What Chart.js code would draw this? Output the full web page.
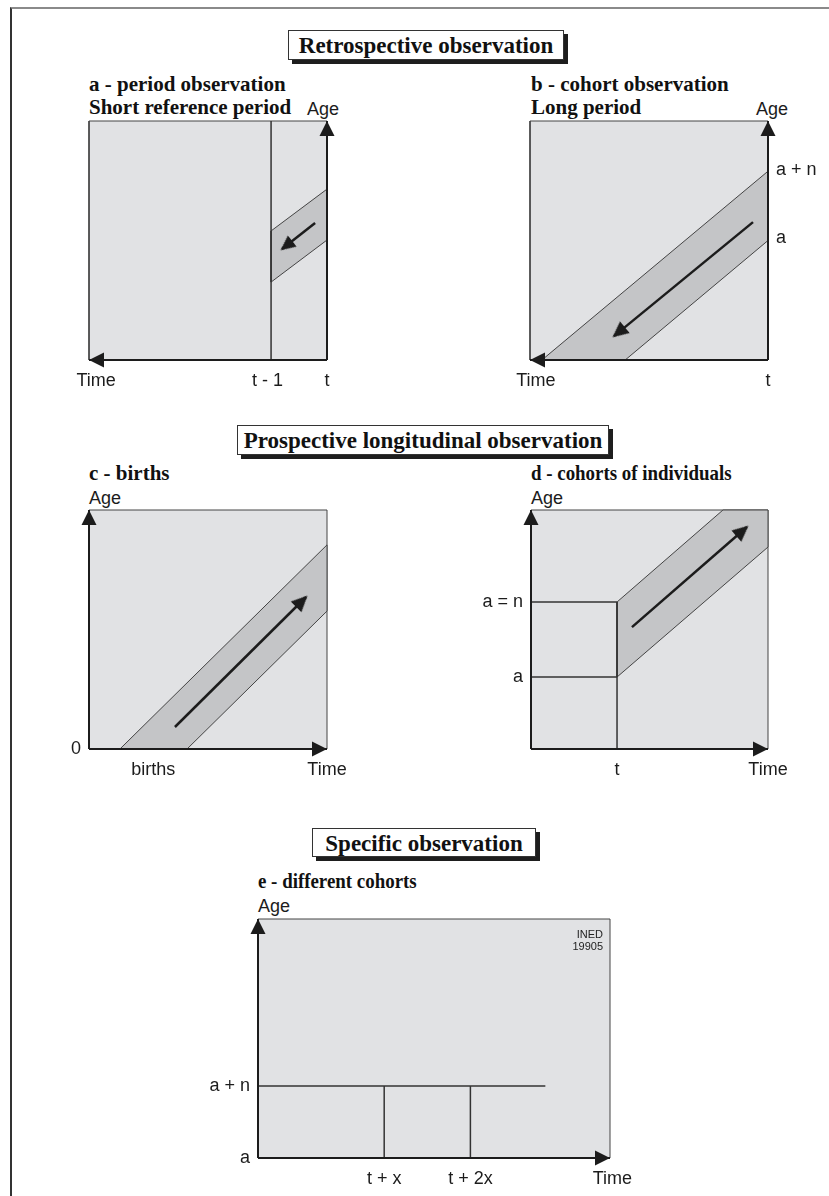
<!DOCTYPE html>
<html>
<head>
<meta charset="utf-8">
<script src="https://cdn.jsdelivr.net/npm/chart.js@4.4.0/dist/chart.umd.min.js"></script>
<style>
html, body { margin: 0; padding: 0; background: #fff; width: 829px; height: 1196px; overflow: hidden; position: relative; }
.frame { position: absolute; left: 10px; top: 7px; width: 830px; height: 1200px; border-top: 2px solid #8a8a8a; border-left: 2px solid #333; }
.head { position: absolute; box-sizing: border-box; border: 1px solid #333; background: #fff; box-shadow: 4px 4px 0 #1e1e1e;
        font: bold 23px 'Liberation Serif', 'Times New Roman', serif; color: #111; display: flex; align-items: center; justify-content: center; padding-top: 2px; }
.title { position: absolute; font: bold 21px/23px 'Liberation Serif', 'Times New Roman', serif; color: #111; white-space: nowrap; transform-origin: left top; }
.lab { position: absolute; font: 18px/18px 'Liberation Sans', Arial, sans-serif; color: #1c1c1c; white-space: nowrap; }
.ined { position: absolute; z-index: 2; font: 11px/12px 'Liberation Sans Narrow', 'Arial Narrow', 'Liberation Sans', sans-serif; text-align: right; color: #222; }
canvas { position: absolute; }
</style>
</head>
<body>
<div class="frame"></div>

<div class="head" style="left:288px;top:30px;width:276px;height:30px">Retrospective observation</div>
<div class="head" style="left:237px;top:425px;width:372px;height:30px">Prospective longitudinal observation</div>
<div class="head" style="left:312px;top:828px;width:224px;height:29px">Specific observation</div>

<div class="title" style="left:89px;top:73px">a - period observation<br>Short reference period</div>
<div class="title" style="left:531px;top:73px">b - cohort observation<br>Long period</div>
<div class="title" style="left:89px;top:462px">c - births</div>
<div class="title" style="left:531px;top:462px;transform:scaleX(0.9)">d - cohorts of individuals</div>
<div class="title" style="left:258px;top:870px;transform:scaleX(0.9)">e - different cohorts</div>

<div class="lab" style="left:307px;top:100px">Age</div>
<div class="lab" style="left:756px;top:100px">Age</div>
<div class="lab" style="left:89px;top:489px">Age</div>
<div class="lab" style="left:531px;top:489px">Age</div>
<div class="lab" style="left:258px;top:897px">Age</div>

<canvas id="chart-a"></canvas>
<canvas id="chart-b"></canvas>
<canvas id="chart-c"></canvas>
<canvas id="chart-d"></canvas>
<canvas id="chart-e"></canvas>

<div class="ined" style="left:560px;top:928px;width:43px">INED<br>19905</div>

<script>
// --- DATA (diagram units: time 0..100 left to right, age 0..100 bottom to top) ---

// a - period observation
const aBox = [[0, 0], [100, 0], [100, 100], [0, 100], [0, 0]];
const aPeriodLine = [[76.5, 0], [76.5, 100]];
const aBand = [[76.5, 32.6], [100, 50.2], [100, 71.5], [76.5, 54], [76.5, 32.6]];
const aArrow = [[95, 57.3], [81.1, 46.4]];
const aTimeAxis = [[100, 0], [0, 0]];
const aAgeAxis = [[100, 0], [100, 100]];
const aTimeTicks = [3, 75, 100];
const aTimeLabels = ['Time', 't - 1', 't'];

// b - cohort observation
const bBox = [[0, 0], [100, 0], [100, 100], [0, 100], [0, 0]];
const bBand = [[5, 0], [40, 0], [100, 50], [100, 79], [5, 0]];
const bArrow = [[93.7, 57.7], [35.3, 10]];
const bTimeAxis = [[100, 0], [0, 0]];
const bAgeAxis = [[100, 0], [100, 100]];
const bTimeTicks = [2.5, 100];
const bTimeLabels = ['Time', 't'];
const bAgeTicks = [79.5, 51];
const bAgeLabels = ['a + n', 'a'];

// c - births
const cBox = [[0, 0], [100, 0], [100, 100], [0, 100], [0, 0]];
const cBand = [[13, 0], [41.2, 0], [100, 57.7], [100, 85.4], [13, 0]];
const cArrow = [[36.1, 9.2], [91.2, 63.6]];
const cTimeAxis = [[0, 0], [100, 0]];
const cAgeAxis = [[0, 0], [0, 100]];
const cTimeTicks = [27, 100];
const cTimeLabels = ['births', 'Time'];
const cAgeTicks = [0];
const cAgeLabels = ['0'];

// d - cohorts of individuals
const dBox = [[0, 0], [100, 0], [100, 100], [0, 100], [0, 0]];
const dBand = [[36.3, 30.1], [100, 84.5], [100, 100], [81, 100], [36.3, 61.5], [36.3, 30.1]];
const dStartLine = [[36.3, 0], [36.3, 61.5]];
const dAgeLowLine = [[0, 30.1], [36.3, 30.1]];
const dAgeHighLine = [[0, 61.5], [36.3, 61.5]];
const dArrow = [[42.6, 51], [91.1, 92.9]];
const dTimeAxis = [[0, 0], [100, 0]];
const dAgeAxis = [[0, 0], [0, 100]];
const dTimeTicks = [36.3, 100];
const dTimeLabels = ['t', 'Time'];
const dAgeTicks = [61.5, 30.1];
const dAgeLabels = ['a = n', 'a'];

// e - different cohorts
const eBox = [[0, 0], [147, 0], [147, 100], [0, 100], [0, 0]];
const eAgeLine = [[0, 30.1], [120, 30.1]];
const eCohort1 = [[52.7, 0], [52.7, 30.1]];
const eCohort2 = [[88.7, 0], [88.7, 30.1]];
const eTimeAxis = [[0, 0], [147, 0]];
const eAgeAxis = [[0, 0], [0, 100]];
const eTimeTicks = [52.7, 88.7, 148];
const eTimeLabels = ['t + x', 't + 2x', 'Time'];
const eAgeTicks = [30.1, 0];
const eAgeLabels = ['a + n', 'a'];

// --- STYLE ---
const BOX_FILL = '#e1e2e4';
const BAND_FILL = '#c4c5c7';
const INK = '#1c1c1c';
const EDGE = '#444';
const FONT = "'Liberation Sans', Arial, sans-serif";
const PAD = 60;

// arrowhead image: tip sits at the image centre (plus an overshoot) so rotation keeps the tip on the point
function makeHead(len, half, over) {
    const size = 2 * (len + over) + 2;
    const c = document.createElement('canvas');
    c.width = size; c.height = size;
    const g = c.getContext('2d');
    const cx = size / 2, cy = size / 2 - over;
    g.fillStyle = INK;
    g.beginPath();
    g.moveTo(cx, cy);
    g.lineTo(cx + half, cy + len);
    g.lineTo(cx - half, cy + len);
    g.closePath();
    g.fill();
    return c;
}
const axisHead = makeHead(15, 7.5, 0);
const bigHead = makeHead(16, 7.5, 2);
const smallHead = makeHead(15, 7, 2);

function pts(arr) {
    return arr.map(([x, y]) => ({ x, y }));
}

function headAngle(ctx) {
    const d = ctx.dataset.data;
    const i = ctx.dataIndex;
    if (!i) return 0;
    const sx = ctx.chart.scales.x, sy = ctx.chart.scales.y;
    const dx = sx.getPixelForValue(d[i].x) - sx.getPixelForValue(d[i - 1].x);
    const dy = sy.getPixelForValue(d[i].y) - sy.getPixelForValue(d[i - 1].y);
    return Math.atan2(dx, -dy) * 180 / Math.PI;
}

function shape(points, fill, order) {
    return { data: pts(points), showLine: true, fill: 'shape', backgroundColor: fill,
             borderColor: EDGE, borderWidth: 1, pointRadius: 0, clip: false, order };
}

function line(points, width, order) {
    return { data: pts(points), showLine: true, fill: false, borderColor: '#333',
             borderWidth: width, pointRadius: 0, clip: false, order };
}

function arrow(points, head, width, order) {
    return {
        data: pts(points), showLine: true, fill: false, borderColor: INK, borderWidth: width,
        clip: false, order,
        pointRadius: points.map((p, i) => (i === points.length - 1 ? 6 : 0)),
        pointStyle: head, pointRotation: headAngle, pointBorderWidth: 0
    };
}

// each axis gets a fixed PAD-sized strip so the plot box lands exactly where wanted
function axisOptions(axis, max, ticks, labels, position) {
    return {
        type: 'linear', min: 0, max, position,
        grid: { display: false, drawTicks: false },
        border: { display: false },
        afterBuildTicks: s => { s.ticks = ticks.map(v => ({ value: v })); },
        afterFit: s => {
            if (axis === 'x') s.height = PAD; else s.width = PAD;
            s.paddingLeft = s.paddingRight = s.paddingTop = s.paddingBottom = 0;
        },
        ticks: {
            autoSkip: false, maxRotation: 0, minRotation: 0,
            padding: axis === 'x' ? 10 : 8,
            color: INK, font: { family: FONT, size: 18 },
            callback: (v, i) => labels[i]
        }
    };
}

function drawPanel(id, box, xMax, datasets, xTicks, xLabels, yTicks, yLabels, yPosition) {
    const canvas = document.getElementById(id);
    canvas.width = box.w + 2 * PAD;
    canvas.height = box.h + 2 * PAD;
    canvas.style.left = (box.left - PAD) + 'px';
    canvas.style.top = (box.top - PAD) + 'px';
    return new Chart(canvas, {
        type: 'scatter',
        data: { datasets },
        options: {
            responsive: false,
            animation: false,
            events: [],
            devicePixelRatio: 1,
            layout: {
                padding: {
                    top: PAD, bottom: 0,
                    left: yPosition === 'left' ? 0 : PAD,
                    right: yPosition === 'right' ? 0 : PAD
                }
            },
            plugins: { legend: { display: false }, tooltip: { enabled: false } },
            scales: {
                x: axisOptions('x', xMax, xTicks, xLabels, 'bottom'),
                y: axisOptions('y', 100, yTicks, yLabels, yPosition)
            }
        }
    });
}

// --- START ---
drawPanel('chart-a', { left: 89, top: 121, w: 238, h: 239 }, 100, [
    arrow(aArrow, smallHead, 2.5, 0),
    arrow(aTimeAxis, axisHead, 2, 1),
    arrow(aAgeAxis, axisHead, 2, 1),
    line(aPeriodLine, 1.5, 2),
    shape(aBand, BAND_FILL, 3),
    shape(aBox, BOX_FILL, 4)
], aTimeTicks, aTimeLabels, [], [], 'right');

drawPanel('chart-b', { left: 530, top: 121, w: 238, h: 239 }, 100, [
    arrow(bArrow, bigHead, 2.5, 0),
    arrow(bTimeAxis, axisHead, 2, 1),
    arrow(bAgeAxis, axisHead, 2, 1),
    shape(bBand, BAND_FILL, 3),
    shape(bBox, BOX_FILL, 4)
], bTimeTicks, bTimeLabels, bAgeTicks, bAgeLabels, 'right');

drawPanel('chart-c', { left: 89, top: 510, w: 238, h: 239 }, 100, [
    arrow(cArrow, bigHead, 2.5, 0),
    arrow(cTimeAxis, axisHead, 2, 1),
    arrow(cAgeAxis, axisHead, 2, 1),
    shape(cBand, BAND_FILL, 3),
    shape(cBox, BOX_FILL, 4)
], cTimeTicks, cTimeLabels, cAgeTicks, cAgeLabels, 'left');

drawPanel('chart-d', { left: 531, top: 510, w: 237, h: 239 }, 100, [
    arrow(dArrow, bigHead, 2.5, 0),
    arrow(dTimeAxis, axisHead, 2, 1),
    arrow(dAgeAxis, axisHead, 2, 1),
    line(dStartLine, 1.5, 2),
    line(dAgeLowLine, 1.5, 2),
    line(dAgeHighLine, 1.5, 2),
    shape(dBand, BAND_FILL, 3),
    shape(dBox, BOX_FILL, 4)
], dTimeTicks, dTimeLabels, dAgeTicks, dAgeLabels, 'left');

drawPanel('chart-e', { left: 258, top: 919, w: 352, h: 239 }, 147, [
    arrow(eTimeAxis, axisHead, 2, 1),
    arrow(eAgeAxis, axisHead, 2, 1),
    line(eAgeLine, 1.5, 2),
    line(eCohort1, 1.5, 2),
    line(eCohort2, 1.5, 2),
    shape(eBox, BOX_FILL, 4)
], eTimeTicks, eTimeLabels, eAgeTicks, eAgeLabels, 'left');
</script>
</body>
</html>
